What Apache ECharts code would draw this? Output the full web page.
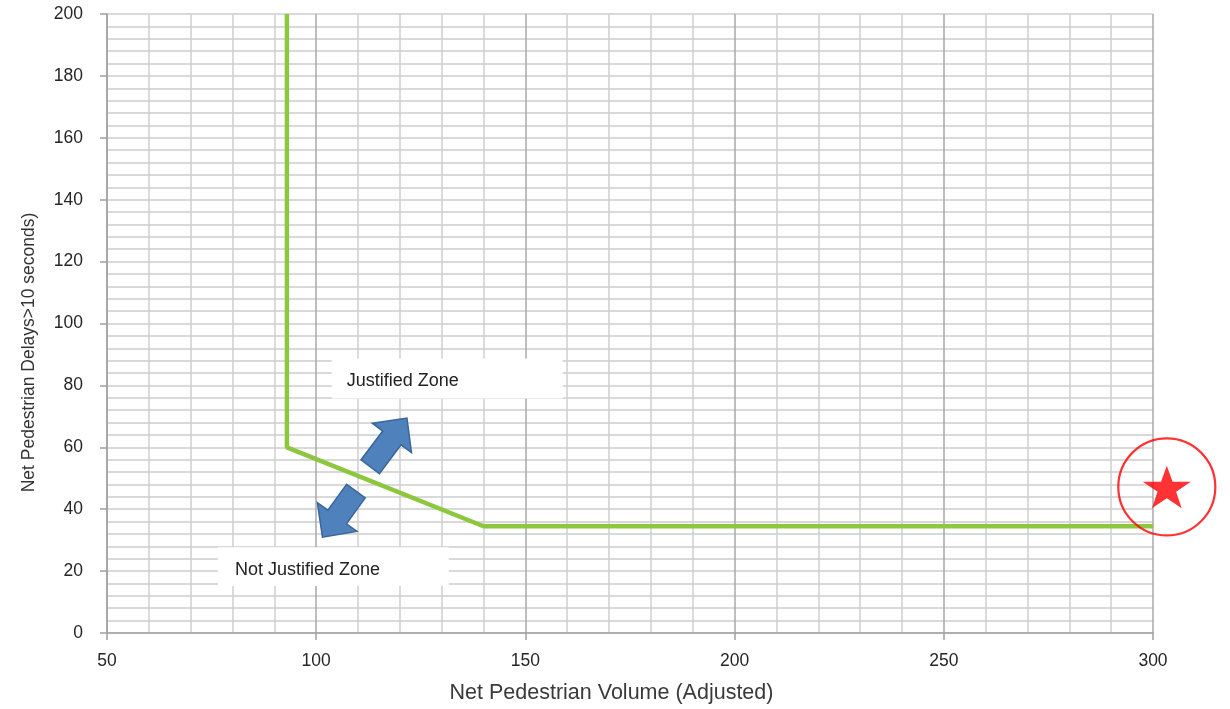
<!DOCTYPE html>
<html>
<head>
<meta charset="utf-8">
<script src="https://cdn.jsdelivr.net/npm/echarts@6/dist/echarts.min.js"></script>
<style>
html,body{margin:0;padding:0;background:#fff;}
#chart{width:1230px;height:709px;}
</style>
</head>
<body>
<div id="chart"></div>
<script>
// ---- data ----
const xTicks = [50, 100, 150, 200, 250, 300];
const yTicks = [0, 20, 40, 60, 80, 100, 120, 140, 160, 180, 200];
const thresholdX = [93, 93, 140, 300];
const thresholdY = [200, 60, 34.5, 34.5];
const siteX = [303.3];
const siteY = [47.2];
const zoneTexts = ['Justified Zone', 'Not Justified Zone'];
const xTitle = 'Net Pedestrian Volume (Adjusted)';
const yTitle = 'Net Pedestrian Delays>10 seconds)';

// ---- chart ----
const FONT = '"Liberation Sans", Arial, sans-serif';
const chart = echarts.init(document.getElementById('chart'), null, {renderer: 'canvas'});

const lineData = thresholdX.map((x, i) => [x, thresholdY[i]]);
const siteData = siteX.map((x, i) => [x, siteY[i]]);
const starPath = 'path://M50,0 L61.8,35.3 L99,35.3 L69,57.1 L80.3,92.7 L50,70.9 L19.7,92.7 L31,57.1 L1,35.3 L38.2,35.3 Z';

const option = {
  animation: false,
  backgroundColor: '#fff',
  grid: {left: 107, right: 77, top: 14, bottom: 75, containLabel: false},
  xAxis: {
    type: 'value',
    min: xTicks[0], max: xTicks[xTicks.length - 1], interval: xTicks[1] - xTicks[0],
    name: xTitle, nameLocation: 'middle', nameGap: 49,
    nameTextStyle: {fontFamily: FONT, fontSize: 21.5, color: '#3a3a3a', padding: [0, 37, 0, 0]},
    axisLine: {show: true, lineStyle: {color: '#a0a0a0', width: 1.5}},
    axisTick: {show: true, length: 7, lineStyle: {color: '#a0a0a0', width: 1.5}},
    axisLabel: {fontFamily: FONT, fontSize: 17.5, color: '#262626', margin: 19},
    splitLine: {show: true, lineStyle: {color: '#a8a8a8', width: 1.5}},
    minorTick: {show: false, splitNumber: 5},
    minorSplitLine: {show: true, lineStyle: {color: '#d0d0d0', width: 1.5}}
  },
  yAxis: {
    type: 'value',
    min: yTicks[0], max: yTicks[yTicks.length - 1], interval: yTicks[1] - yTicks[0],
    name: yTitle, nameLocation: 'middle', nameGap: 69, nameRotate: 90,
    nameTextStyle: {fontFamily: FONT, fontSize: 17.5, color: '#333', padding: [0, 58, 0, 0]},
    axisLine: {show: true, lineStyle: {color: '#a0a0a0', width: 1.5}},
    axisTick: {show: true, length: 7, lineStyle: {color: '#a0a0a0', width: 1.5}},
    axisLabel: {fontFamily: FONT, fontSize: 17.5, color: '#262626', margin: 24},
    splitLine: {show: true, lineStyle: {color: '#cdcdcd', width: 1.5}},
    minorTick: {show: false, splitNumber: 5},
    minorSplitLine: {show: true, lineStyle: {color: '#cdcdcd', width: 1.5}}
  },
  series: [
    {
      type: 'line', data: lineData, symbol: 'none', z: 3,
      lineStyle: {color: '#8dc63f', width: 4.5}
    },
    {
      type: 'scatter', data: siteData, symbol: 'circle', symbolSize: 97, clip: false, z: 5,
      itemStyle: {color: 'rgba(0,0,0,0)', borderColor: '#ff0000', borderWidth: 2.2}
    },
    {
      type: 'scatter', data: siteData, symbol: starPath, symbolKeepAspect: true,
      symbolSize: [48, 45], clip: false, z: 6,
      itemStyle: {color: '#ff0000'}
    }
  ]
};
chart.setOption(option);

// ---- annotations (positioned through the axes) ----
function px(x, y) { return chart.convertToPixel({gridIndex: 0}, [x, y]); }

function arrowShape(L, shaftW, headW, headL) {
  const h = L / 2;
  return [[-h, -shaftW / 2], [h - headL, -shaftW / 2], [h - headL, -headW / 2], [h, 0],
          [h - headL, headW / 2], [h - headL, shaftW / 2], [-h, shaftW / 2]];
}

function box(x0, y0, x1, y1, text, textPad) {
  const a = px(x0, y0), b = px(x1, y1);
  return {
    type: 'group', z: 10,
    children: [
      {type: 'rect', shape: {x: a[0], y: a[1], width: b[0] - a[0], height: b[1] - a[1]},
       style: {fill: '#fff'}, z: 10},
      {type: 'text', x: a[0] + textPad, y: (a[1] + b[1]) / 2 + 3, z: 11,
       style: {text: text, font: '18px ' + FONT, fill: '#222', textVerticalAlign: 'middle', verticalAlign: 'middle'}}
    ]
  };
}

function arrow(cx, cy, angleDeg, L) {
  const c = px(cx, cy);
  return {
    type: 'polygon', x: c[0], y: c[1], rotation: angleDeg * Math.PI / 180, z: 12,
    shape: {points: arrowShape(L, 23, 49, 25)},
    style: {fill: '#4f81bd', stroke: '#3a6699', lineWidth: 1.5}
  };
}

chart.setOption({
  graphic: [
    box(103.7, 88.7, 158.9, 75.8, zoneTexts[0], 15),
    box(76.5, 27.7, 131.7, 15.2, zoneTexts[1], 17),
    arrow(117.3, 61.6, 53, 61),
    arrow(105.5, 38.4, -126, 57)
  ]
});
</script>
</body>
</html>
